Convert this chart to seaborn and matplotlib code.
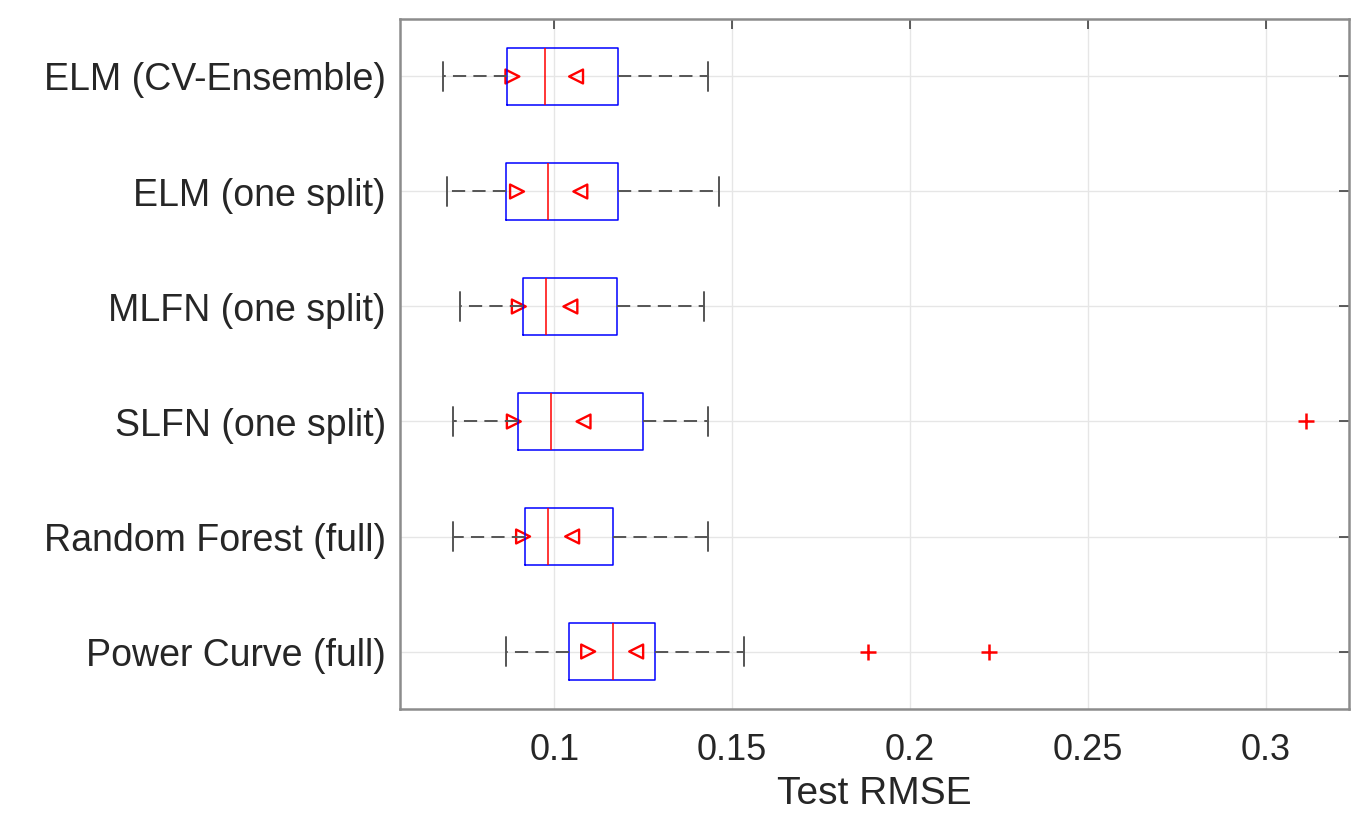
import numpy as np
import pandas as pd
import matplotlib
matplotlib.use("Agg")
import matplotlib.pyplot as plt
import seaborn as sns

# ---- data (top row first) ----
models = ["ELM (CV-Ensemble)", "ELM (one split)", "MLFN (one split)",
          "SLFN (one split)", "Random Forest (full)", "Power Curve (full)"]
whisker_lo = [0.0687, 0.0697, 0.0736, 0.0715, 0.0715, 0.0865]
q1 = [0.0867, 0.0865, 0.0911, 0.0897, 0.0917, 0.1040]
median = [0.0975, 0.0982, 0.0977, 0.0991, 0.0982, 0.1165]
q3 = [0.1178, 0.1178, 0.1176, 0.1248, 0.1165, 0.1283]
whisker_hi = [0.1431, 0.1463, 0.1422, 0.1431, 0.1431, 0.1534]
notch_lo = [0.0882, 0.0895, 0.0900, 0.0886, 0.0912, 0.1095]
notch_hi = [0.1061, 0.1073, 0.1045, 0.1082, 0.1050, 0.1230]
outliers = [[], [], [], [0.3114], [], [0.1883, 0.2222]]

sns.set_theme(style="white")
plt.rcParams["font.family"] = ["Liberation Sans", "DejaVu Sans"]

fig, ax = plt.subplots(figsize=(13.56, 8.21), dpi=100)
fig.subplots_adjust(left=400 / 1356, right=1349 / 1356,
                    top=1 - 19 / 821, bottom=1 - 709 / 821)

positions = np.arange(len(models), 0, -1)

stats = []
for i, m in enumerate(models):
    stats.append(dict(label=m, whislo=whisker_lo[i], q1=q1[i], med=median[i],
                      q3=q3[i], whishi=whisker_hi[i], fliers=[]))

ax.bxp(stats, positions=positions, vert=False, widths=0.5, capwidths=0.25,
       showfliers=False,
       boxprops=dict(color="#0000ff", linewidth=1.1),
       medianprops=dict(color="#ff0000", linewidth=1.1),
       whiskerprops=dict(color="#555555", linewidth=1.4, linestyle=(0, (6.8, 3.7))),
       capprops=dict(color="#555555", linewidth=1.4))

# notch markers
notch_df = pd.DataFrame({"pos": positions, "lo": notch_lo, "hi": notch_hi})
sns.scatterplot(data=notch_df, x="lo", y="pos", marker=">", s=100,
                facecolor="none", edgecolor="#ff0000", linewidth=1.7, ax=ax)
sns.scatterplot(data=notch_df, x="hi", y="pos", marker="<", s=100,
                facecolor="none", edgecolor="#ff0000", linewidth=1.7, ax=ax)

# outliers
out_rows = [(p, v) for p, vals in zip(positions, outliers) for v in vals]
out_df = pd.DataFrame(out_rows, columns=["pos", "val"])
sns.scatterplot(data=out_df, x="val", y="pos", marker="+", s=120,
                color="#ff0000", linewidth=1.8, ax=ax)

ax.set_xlim(0.0566, 0.3234)
ax.set_ylim(0.5, 6.5)
ax.set_xticks([0.1, 0.15, 0.2, 0.25, 0.3])
ax.set_xticklabels(["0.1", "0.15", "0.2", "0.25", "0.3"])
ax.set_yticks(positions)
ax.set_yticklabels(models)
ax.set_xlabel("Test RMSE", fontsize=28, color="#262626", labelpad=6)
ax.set_ylabel("")

ax.grid(True, color="#e6e6e6", linewidth=1.0)
ax.set_axisbelow(True)
ax.tick_params(axis="both", direction="in", length=7, width=1.2,
               color="#404040", top=True, right=True, labelsize=26,
               labelcolor="#262626", pad=17)
ax.tick_params(axis="y", labelsize=27, pad=10)
for sp in ax.spines.values():
    sp.set_color("#8c8c8c")
    sp.set_linewidth(1.8)

fig.savefig("out.png", dpi=100)
